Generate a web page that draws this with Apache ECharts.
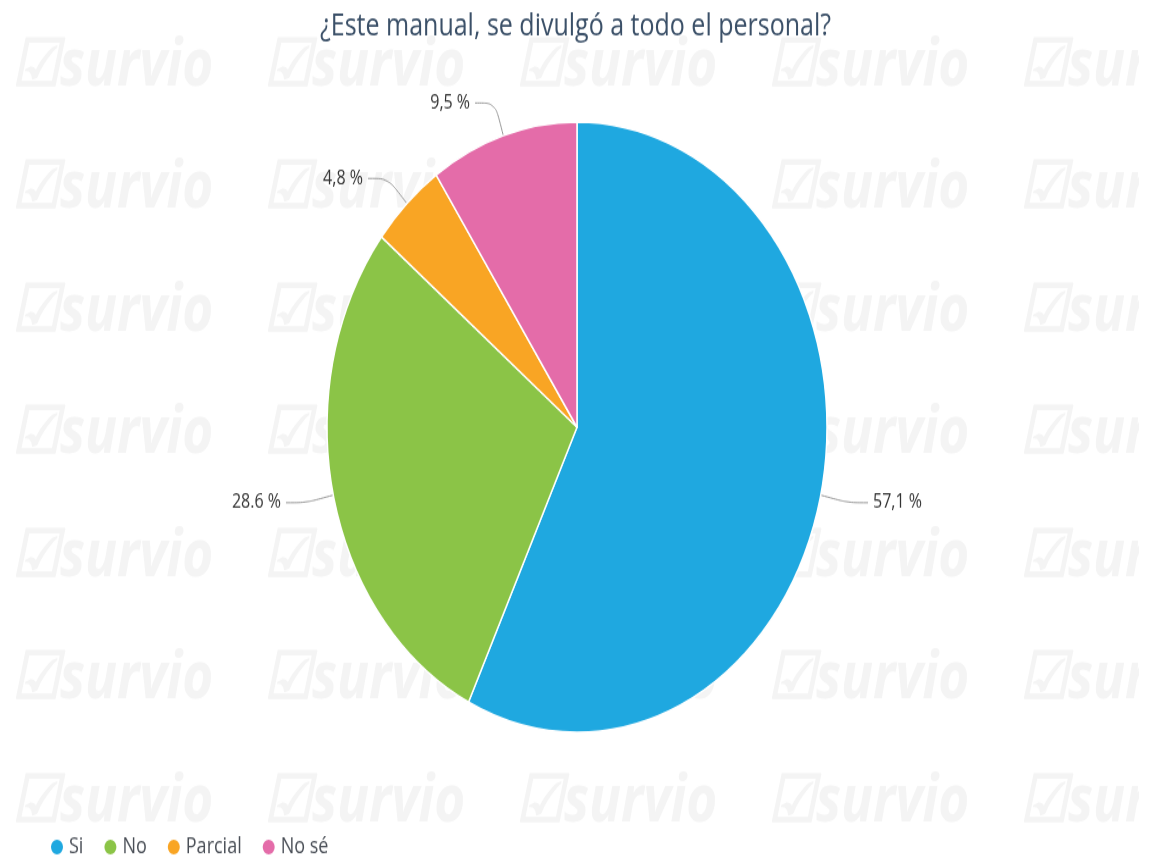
<!DOCTYPE html>
<html>
<head>
<meta charset="utf-8">
<script src="https://cdn.jsdelivr.net/npm/echarts@6/dist/echarts.min.js"></script>
<style>
  html, body { margin: 0; padding: 0; background: #fff; width: 1151px; height: 858px; }
  html { overflow: hidden; }
  /* the source picture is stretched vertically, so draw at 703px high and stretch */
  #chart { width: 1151px; height: 703px; transform: scaleY(1.2205); transform-origin: 0 0; }
</style>
</head>
<body>
<div id="chart"></div>
<script>
  var categories = ['Si', 'No', 'Parcial', 'No sé']
  var counts = [12, 6, 1, 2]
  var labelTexts = ['57,1 %', '28.6 %', '4,8 %', '9,5 %']
  var colors = ['#1fa8e0', '#8bc447', '#f9a524', '#e46ca9']

  var chart = echarts.init(document.getElementById('chart'))

  // watermark tiles
  var marks = []
  for (var r = 0; r < 7; r++) {
    for (var c = 0; c < 5; c++) {
      marks.push({
        type: 'text',
        silent: true,
        z: -10,
        left: 12 + c * 252,
        top: 28 + r * 100.5,
        style: {
          text: '☑survio',
          fill: '#f4f4f4',
          font: 'italic bold 53px "Open Sans"'
        }
      })
    }
  }
  // white strip on the right edge, the source image is cropped there
  marks.push({
    type: 'rect',
    silent: true,
    z: -5,
    right: 0,
    top: 0,
    shape: { width: 12, height: 703 },
    style: { fill: '#fff' }
  })

  var option = {
    backgroundColor: '#fff',
    color: colors,
    graphic: marks,
    title: {
      text: '¿Este manual, se divulgó a todo el personal?',
      left: 'center',
      top: 4,
      textStyle: {
        fontFamily: 'Open Sans',
        fontSize: 25,
        fontWeight: 'normal',
        color: '#3b5068'
      }
    },
    legend: {
      left: 44,
      top: 680,
      icon: 'circle',
      itemWidth: 14,
      itemHeight: 14,
      itemGap: 19,
      textStyle: {
        fontFamily: 'Open Sans',
        fontSize: 18,
        color: '#4a4f57'
      },
      data: categories
    },
    series: [
      {
        type: 'pie',
        radius: 250,
        center: [577, 350],
        startAngle: 90,
        clockwise: true,
        itemStyle: {
          borderColor: '#fff',
          borderWidth: 1.5
        },
        label: {
          show: true,
          fontFamily: 'Open Sans',
          fontSize: 16,
          color: '#333',
          formatter: function (p) {
            return labelTexts[p.dataIndex]
          }
        },
        labelLine: {
          show: true,
          length: 28,
          length2: 20,
          smooth: true,
          lineStyle: { color: '#999', width: 1 }
        },
        emphasis: { disabled: true },
        data: categories.map(function (name, i) {
          return { name: name, value: counts[i] }
        })
      }
    ]
  }
  chart.setOption(option)
</script>
</body>
</html>
